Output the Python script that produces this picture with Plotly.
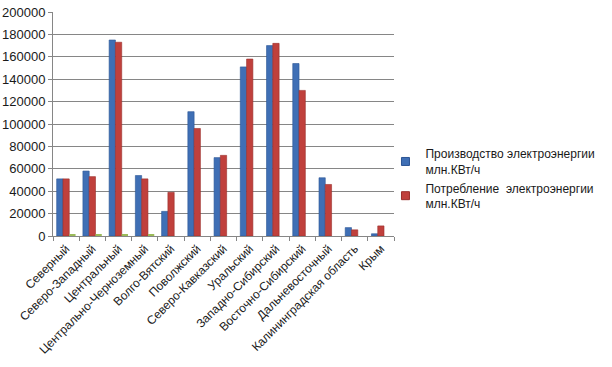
import plotly.graph_objects as go

categories = ["Северный", "Северо-Западный", "Центральный", "Центрально-Черноземный",
              "Волго-Вятский", "Поволжский", "Северо-Кавказский", "Уральский",
              "Западно-Сибирский", "Восточно-Сибирский", "Дальневосточный",
              "Калининградская область", "Крым"]
production = [51000, 58000, 175000, 54000, 22000, 111000, 70000, 151000, 170000, 154000, 52000, 7500, 2000]
consumption = [51000, 53000, 173000, 51000, 39000, 96000, 72000, 158000, 172000, 130000, 46000, 5500, 9000]
third = [1800, 1800, 1800, 1800, 0, 0, 0, 0, 0, 0, 0, 0, 0]

name_prod = "Производство электроэнергии<br>млн.КВт/ч"
name_cons = "Потребление  электроэнергии<br>млн.КВт/ч"

blue, blue_d = "#3f6fb5", "#2c5595"
red, red_d = "#c0403c", "#9a2f2c"

fig = go.Figure()
fig.add_trace(go.Bar(x=categories, y=production, name=name_prod, showlegend=False,
                     marker=dict(color=blue, line=dict(color=blue_d, width=0.6))))
fig.add_trace(go.Bar(x=categories, y=consumption, name=name_cons, showlegend=False,
                     marker=dict(color=red, line=dict(color=red_d, width=0.6))))
fig.add_trace(go.Bar(x=categories, y=third, name="", showlegend=False,
                     marker=dict(color="#9bbb59", line=dict(width=0))))
# legend entries with small square swatches
fig.add_trace(go.Scatter(x=[None], y=[None], mode="markers", name=name_prod,
                         marker=dict(symbol="square", size=8, color=blue,
                                     line=dict(color=blue_d, width=1))))
fig.add_trace(go.Scatter(x=[None], y=[None], mode="markers", name=name_cons,
                         marker=dict(symbol="square", size=8, color=red,
                                     line=dict(color=red_d, width=1))))

font = "Liberation Sans"
fig.update_layout(
    width=612, height=367,
    margin=dict(l=53, r=214, t=12, b=131),
    paper_bgcolor="white", plot_bgcolor="white",
    barmode="group", bargap=0.28, bargroupgap=0,
    font=dict(family=font, size=12, color="#1a1a1a"),
    showlegend=True,
    legend=dict(x=0.975, y=0.255, xanchor="left", yanchor="middle",
                font=dict(family=font, size=12, color="#1a1a1a"),
                itemwidth=30, tracegroupgap=8, bgcolor="rgba(0,0,0,0)"),
    xaxis=dict(tickangle=-45, showline=True, linecolor="#868686", linewidth=1,
               ticks="outside", ticklen=4, tickcolor="#868686",
               tickson="boundaries", showgrid=False, automargin=False,
               tickfont=dict(family=font, size=12, color="#1a1a1a")),
    yaxis=dict(range=[0, 200000], dtick=20000, showline=True, linecolor="#868686",
               linewidth=1, ticks="outside", ticklen=4, tickcolor="#868686",
               showgrid=True, gridcolor="#868686", gridwidth=1,
               tickformat="d", zeroline=False, automargin=False,
               tickfont=dict(family=font, size=13, color="#1a1a1a")),
)

fig.write_html("out.html",
               config={"displayModeBar": False, "responsive": False},
               post_script="document.body.style.margin='0';document.body.style.overflow='hidden';")
